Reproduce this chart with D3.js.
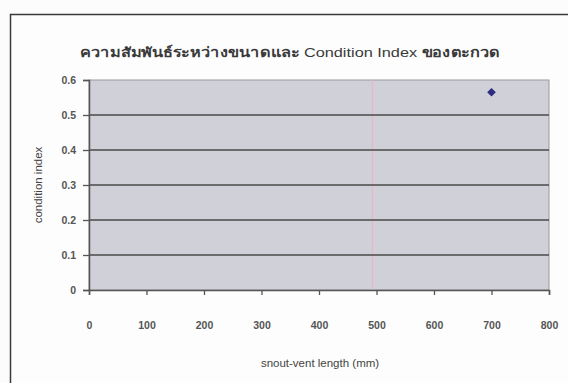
<!DOCTYPE html>
<html><head><meta charset="utf-8">
<script src="https://cdn.jsdelivr.net/npm/d3@7"></script>
<style>body{margin:0;background:#fcfcfc;} svg{display:block;}</style>
</head><body>
<svg id="c" width="568" height="383"></svg>
<script>
const titleParts = ["ความสัมพันธ์ระหว่างขนาดและ", " Condition Index ", "ของตะกวด"];
const titleBold = [true, false, true];
const xTitle = "snout-vent length (mm)";
const yTitle = "condition index";
const xTicks = [0,100,200,300,400,500,600,700,800];
const yTicks = [0,0.1,0.2,0.3,0.4,0.5,0.6];
const svlValues = [700];
const ciValues = [0.565];
const artifactX = [493];

(function(){
const svg = d3.select("#c");
const W = 568, H = 383;
const pL = 89, pR = 549, pT = 80, pB = 290;
const x = d3.scaleLinear().domain([0,800]).range([pL,pR]);
const y = d3.scaleLinear().domain([0,0.6]).range([pB,pT]);
const font = "Arial, 'Liberation Sans', 'Noto Sans', sans-serif";

svg.append("rect").attr("width",W).attr("height",H).attr("fill","#fcfcfc");
svg.append("rect").attr("x",10.5).attr("y",14.5).attr("width",W).attr("height",H)
  .attr("fill","#fdfdfd").attr("stroke","#3a3a3a").attr("stroke-width",1.5);

const t = svg.append("text").attr("x",290).attr("y",57).attr("text-anchor","middle")
  .attr("font-family",font).attr("font-size",13.5).attr("fill","#3a3a3a")
  .attr("textLength",420).attr("lengthAdjust","spacingAndGlyphs");
t.selectAll("tspan").data(titleParts).enter().append("tspan")
  .attr("font-weight",(d,i)=>titleBold[i]?"bold":"normal").text(d=>d);

svg.append("rect").attr("x",pL).attr("y",pT).attr("width",pR-pL).attr("height",pB-pT)
  .attr("fill","#cfd0d8").attr("stroke","#9a9a9a").attr("stroke-width",1);

svg.selectAll(".art").data(artifactX).enter().append("line")
  .attr("x1",d=>x(d)).attr("x2",d=>x(d)).attr("y1",pT).attr("y2",pB)
  .attr("stroke","#eeb4cc").attr("stroke-width",1.2);

svg.selectAll(".grid").data(yTicks.filter(v=>v>0 && v<0.6)).enter().append("line")
  .attr("x1",pL).attr("x2",pR).attr("y1",d=>y(d)).attr("y2",d=>y(d))
  .attr("stroke","#4a4a4a").attr("stroke-width",1.4);

const xa = svg.append("g").attr("transform",`translate(0,${pB})`)
  .call(d3.axisBottom(x).tickValues(xTicks).tickSize(5).tickPadding(27).tickFormat(d3.format("d")));
const ya = svg.append("g").attr("transform",`translate(${pL},0)`)
  .call(d3.axisLeft(y).tickValues(yTicks).tickSize(6).tickPadding(7).tickFormat(d=>d===0?"0":d3.format(".1f")(d)));
[xa,ya].forEach(g=>{
  g.select(".domain").attr("stroke","#555").attr("stroke-width",1.5);
  g.selectAll(".tick line").attr("stroke","#555").attr("stroke-width",1.3);
  g.selectAll(".tick text").attr("font-family",font).attr("font-size",10.5)
    .attr("font-weight","bold").attr("fill","#555");
});

svg.selectAll(".pt").data(svlValues.map((v,i)=>[v,ciValues[i]])).enter().append("path")
  .attr("d",d3.symbol(d3.symbolSquare,38)())
  .attr("transform",d=>`translate(${x(d[0])},${y(d[1])}) rotate(45)`)
  .attr("fill","#2c2c82");

svg.append("text").attr("x",320).attr("y",367).attr("text-anchor","middle")
  .attr("font-family",font).attr("font-size",11.5).attr("fill","#444").text(xTitle);
svg.append("text").attr("transform","translate(42,185) rotate(-90)").attr("text-anchor","middle")
  .attr("font-family",font).attr("font-size",11.5).attr("fill","#444").text(yTitle);
})();
</script>
</body></html>
